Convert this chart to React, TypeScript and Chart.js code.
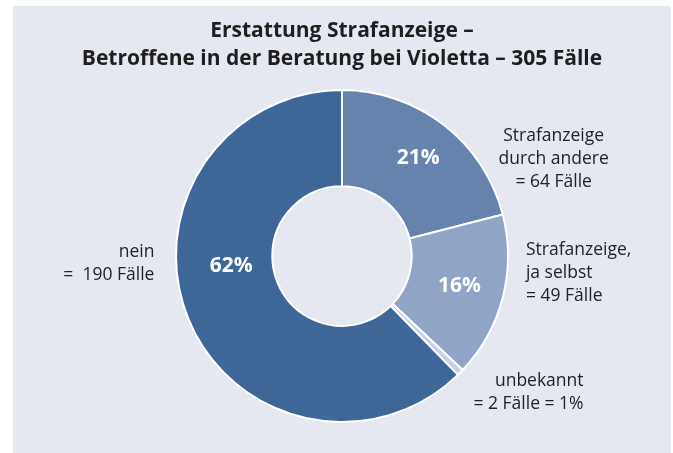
import React, { useEffect, useRef } from "react";
import { Chart, registerables } from "chart.js";

Chart.register(...registerables);

const TITLE_LINES = ["Erstattung Strafanzeige –", "Betroffene in der Beratung bei Violetta – 305 Fälle"];
const CATEGORIES = ["Strafanzeige durch andere", "Strafanzeige, ja selbst", "unbekannt", "nein"];
const CASES = [64, 49, 2, 190];
const PERCENT_LABELS = ["21%", "16%", "", "62%"];
const OUTSIDE_LABELS = [
  ["Strafanzeige", "durch andere", "= 64 Fälle"],
  ["Strafanzeige,", "ja selbst", "= 49 Fälle"],
  ["unbekannt", "= 2 Fälle = 1%"],
  ["nein", "=  190 Fälle"],
];
const COLORS = ["#6683ae", "#90a5c6", "#c8d1e3", "#3e6797"];

const FONT = "'Open Sans', sans-serif";

const labelPlugin = {
  id: "labels",
  afterDatasetsDraw(chart: any) {
    const ctx = chart.ctx;
    const meta = chart.getDatasetMeta(0);
    const arc0 = meta.data[0];
    const cx = arc0.x;
    const cy = arc0.y;
    const R = arc0.outerRadius;
    ctx.save();
    // title
    ctx.fillStyle = "#1e1e1e";
    ctx.font = `bold 21px ${FONT}`;
    ctx.textAlign = "center";
    ctx.textBaseline = "middle";
    TITLE_LINES.forEach((t, i) => ctx.fillText(t, cx, 31 + i * 28));

    // percent labels inside
    const pctAngleShift = [0, 0, 0, 17];
    const pctRadius = [0.75, 0.73, 0.7, 0.67];
    ctx.font = `bold 21px ${FONT}`;
    ctx.fillStyle = "#ffffff";
    meta.data.forEach((arc: any, i: number) => {
      if (!PERCENT_LABELS[i]) return;
      const mid = (arc.startAngle + arc.endAngle) / 2 + (pctAngleShift[i] * Math.PI) / 180;
      const r = pctRadius[i] * R;
      ctx.fillText(PERCENT_LABELS[i], cx + Math.cos(mid) * r, cy + Math.sin(mid) * r);
    });

    // outside labels
    ctx.fillStyle = "#222222";
    ctx.font = `17.5px ${FONT}`;
    const lh = 23;
    const place = [
      { dx: 1.275, dy: -0.585, align: "center" },
      { dx: 1.108, dy: 0.105, align: "left" },
      { dx: 1.455, dy: 0.825, align: "right" },
      { dx: -1.13, dy: 0.045, align: "right" },
    ];
    OUTSIDE_LABELS.forEach((lines, i) => {
      const p = place[i];
      ctx.textAlign = p.align;
      const x = cx + p.dx * R;
      const y0 = cy + p.dy * R - ((lines.length - 1) * lh) / 2;
      lines.forEach((l, j) => ctx.fillText(l, x, y0 + j * lh));
    });
    ctx.restore();
  },
};

export default function App() {
  const ref = useRef<HTMLCanvasElement>(null);
  useEffect(() => {
    const chart = new Chart(ref.current!, {
      type: "doughnut",
      data: {
        labels: CATEGORIES,
        datasets: [
          {
            data: CASES,
            backgroundColor: COLORS,
            borderColor: "#ffffff",
            borderWidth: 2,
          },
        ],
      },
      options: {
        animation: false,
        responsive: false,
        cutout: "42%",
        layout: { padding: { left: 175, right: 164, top: 89, bottom: 30 } },
        plugins: {
          legend: { display: false },
          tooltip: { enabled: false },
          title: { display: false },
        },
      },
      plugins: [labelPlugin],
    });
    return () => chart.destroy();
  }, []);
  return (
    <div style={{ position: "absolute", left: 0, top: 0, width: 673, height: 453, background: "#ffffff" }}>
      <div style={{ position: "absolute", left: 13, top: 6, width: 658, height: 447, background: "#e6e8f1" }} />
      <canvas ref={ref} width={673} height={453} style={{ position: "absolute", left: 0, top: 0, display: "block" }} />
    </div>
  );
}
